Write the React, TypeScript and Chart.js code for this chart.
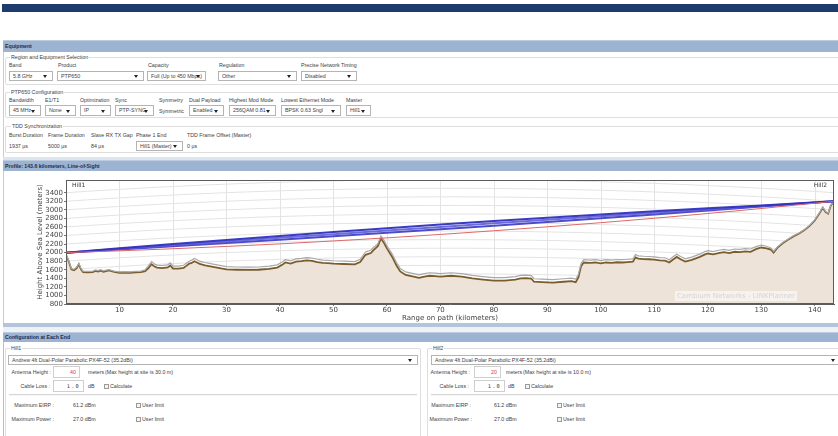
import React, { useEffect, useRef } from "react";
import { Chart, registerables } from "chart.js";
Chart.register(...registerables);

// ---------------- data ----------------
const pathKm = [
  0, 0.5, 1.0, 1.5, 2.0, 2.4, 2.8, 3.2, 4.0, 5.0, 5.5, 6.0, 6.5, 7.0, 7.5, 8.0, 8.5, 9.0, 10.0, 11.0,
  12.0, 13.0, 14.0, 14.8, 15.4, 16.0, 16.5, 17.0, 18.0, 19.0, 19.5, 20.0, 21.0, 22.0, 22.5, 23.0, 23.5, 24.0, 24.5, 25.0,
  26.0, 27.0, 28.0, 29.0, 30.0, 32.0, 34.0, 36.0, 38.0, 39.5, 40.5, 41.0, 42.0, 43.0, 44.0, 45.0, 46.0, 47.0, 48.0, 49.0,
  50.0, 52.0, 54.0, 55.0, 56.0, 57.0, 57.5, 58.3, 58.9, 59.5, 60.0, 61.0, 61.8, 62.5, 63.5, 65.0, 66.0, 67.0, 68.0, 69.0,
  70.0, 72.0, 74.0, 76.0, 78.0, 80.0, 82.0, 84.0, 85.0, 86.0, 87.0, 87.5, 89.0, 91.0, 93.0, 94.5, 95.3, 95.8, 96.3, 96.8,
  98.0, 99.0, 100.0, 101.0, 102.0, 103.0, 104.0, 105.0, 106.0, 106.5, 107.0, 108.0, 109.0, 110.0, 111.0, 112.0, 112.8, 113.5, 114.2, 115.0,
  115.8, 117.0, 118.5, 119.5, 120.0, 121.0, 122.0, 123.0, 124.0, 125.0, 126.0, 127.0, 128.0, 129.0, 130.0, 131.0, 131.8, 132.3, 133.0, 134.0,
  135.0, 136.0, 137.0, 138.0, 139.0, 140.0, 140.8, 141.5, 142.0, 142.5, 143.0, 143.6,
];
const terrainM = [
  1950, 1800, 1610, 1590, 1640, 1730, 1610, 1545, 1540, 1545, 1575, 1560, 1580, 1555, 1570, 1585, 1565, 1550, 1530, 1535,
  1530, 1540, 1545, 1565, 1640, 1730, 1680, 1650, 1640, 1655, 1700, 1625, 1625, 1645, 1690, 1740, 1760, 1800, 1770, 1735,
  1705, 1680, 1655, 1630, 1610, 1600, 1595, 1600, 1620, 1650, 1720, 1770, 1745, 1790, 1800, 1820, 1810, 1780, 1760, 1755,
  1745, 1735, 1725, 1780, 1950, 1990, 2060, 2150, 2330, 2220, 2100, 1900, 1700, 1560, 1480, 1440, 1410, 1440, 1460, 1450,
  1440, 1460, 1440, 1400, 1370, 1345, 1345, 1370, 1400, 1405, 1395, 1320, 1310, 1300, 1320, 1335, 1310, 1420, 1680, 1770,
  1760, 1770, 1750, 1770, 1760, 1775, 1770, 1780, 1790, 1890, 1860, 1850, 1845, 1835, 1820, 1815, 1770, 1840, 1900, 1840,
  1790, 1830, 1900, 1960, 1980, 1960, 1990, 2010, 1990, 2020, 2010, 2030, 2020, 2080, 2120, 2100, 2070, 2000, 2110, 2220,
  2300, 2380, 2440, 2520, 2620, 2750, 2900, 3050, 2950, 2910, 3100, 3200,
];
const clutterM = [
  1960, 1815, 1630, 1610, 1660, 1750, 1630, 1565, 1560, 1565, 1595, 1580, 1600, 1575, 1590, 1605, 1585, 1570, 1550, 1555,
  1550, 1560, 1570, 1600, 1690, 1790, 1740, 1710, 1700, 1715, 1760, 1685, 1685, 1705, 1750, 1800, 1825, 1865, 1835, 1800,
  1770, 1745, 1720, 1695, 1675, 1665, 1660, 1665, 1685, 1715, 1785, 1835, 1810, 1855, 1865, 1885, 1875, 1845, 1825, 1820,
  1810, 1800, 1790, 1845, 2015, 2055, 2120, 2210, 2390, 2280, 2160, 1965, 1770, 1630, 1550, 1510, 1480, 1510, 1530, 1520,
  1510, 1530, 1510, 1470, 1440, 1415, 1415, 1440, 1470, 1475, 1465, 1390, 1380, 1370, 1390, 1405, 1380, 1490, 1745, 1835,
  1825, 1835, 1815, 1835, 1825, 1840, 1835, 1845, 1855, 1955, 1925, 1915, 1910, 1900, 1885, 1880, 1835, 1905, 1965, 1905,
  1855, 1895, 1965, 2025, 2045, 2025, 2055, 2075, 2055, 2085, 2075, 2095, 2085, 2140, 2175, 2150, 2110, 2030, 2130, 2235,
  2315, 2395, 2455, 2535, 2635, 2765, 2915, 3065, 2965, 2925, 3110, 3205,
];
const rayKm = [0, 10, 20, 30, 40, 50, 60, 70, 80, 90, 100, 110, 120, 130, 143.6];
const blueUpperM = [2000, 2102, 2201, 2297, 2390, 2482, 2569, 2655, 2738, 2817, 2893, 2965, 3035, 3103, 3200];
const blueMiddleM = [2000, 2088, 2175, 2261, 2346, 2432, 2516, 2600, 2684, 2766, 2848, 2929, 3010, 3090, 3200];
const blueLowerM = [2000, 2074, 2148, 2224, 2302, 2382, 2462, 2545, 2630, 2715, 2803, 2893, 2985, 3076, 3200];
const redRayM = [2000, 2042, 2091, 2145, 2205, 2273, 2345, 2425, 2511, 2603, 2700, 2803, 2914, 3031, 3200];
const xTicksKm = [10, 20, 30, 40, 50, 60, 70, 80, 90, 100, 110, 120, 130, 140];
const yTicksM = [800, 1000, 1200, 1400, 1600, 1800, 2000, 2200, 2400, 2600, 2800, 3000, 3200, 3400];
const pathLengthKm = 143.6;
const bulgeDivisor = 16.99; // 2·k·R (k = 4/3) in km²/m

// ---------------- UI helpers ----------------
const FONT = '"Liberation Sans", Arial, sans-serif';
const FS = 5.3;

function Txt(p: { x: number; y: number; t: string; right?: boolean; bold?: boolean; color?: string; size?: number }) {
  const st: any = {
    position: "absolute",
    top: p.y - 4,
    height: 8,
    lineHeight: "8px",
    fontSize: p.size || FS,
    whiteSpace: "nowrap",
    color: p.color || "#3e3e3e",
    fontWeight: p.bold ? "bold" : "normal",
  };
  if (p.right) st.right = 838 - p.x;
  else st.left = p.x;
  return <div style={st}>{p.t}</div>;
}

function Combo(p: { x: number; y: number; w: number; h?: number; t: string }) {
  const h = p.h || 10;
  return (
    <div
      style={{
        position: "absolute",
        left: p.x,
        top: p.y,
        width: p.w,
        height: h,
        boxSizing: "border-box",
        border: "1px solid #b4b4b4",
        background: "#fff",
      }}
    >
      <div style={{ position: "absolute", left: 3, top: 0, lineHeight: h - 2 + "px", fontSize: FS, color: "#3e3e3e", whiteSpace: "nowrap" }}>{p.t}</div>
      <div
        style={{
          position: "absolute",
          right: 5,
          top: (h - 2) / 2 - 1,
          width: 0,
          height: 0,
          borderLeft: "2px solid transparent",
          borderRight: "2px solid transparent",
          borderTop: "3px solid #222",
        }}
      />
    </div>
  );
}

function Group(p: { x: number; y: number; w: number; h: number; t: string; tx?: number }) {
  return (
    <>
      <div
        style={{
          position: "absolute",
          left: p.x,
          top: p.y,
          width: p.w,
          height: p.h,
          boxSizing: "border-box",
          border: "1px solid #dedede",
          borderRadius: 2,
        }}
      />
      <div
        style={{
          position: "absolute",
          left: p.tx ?? p.x + 5,
          top: p.y - 4,
          lineHeight: "8px",
          fontSize: FS,
          background: "#fff",
          padding: "0 1px",
          color: "#3e3e3e",
          whiteSpace: "nowrap",
        }}
      >
        {p.t}
      </div>
    </>
  );
}

function Check(p: { x: number; y: number }) {
  return (
    <div
      style={{
        position: "absolute",
        left: p.x,
        top: p.y,
        width: 5,
        height: 5,
        boxSizing: "border-box",
        border: "1px solid #9a9a9a",
        background: "#f4f4f4",
      }}
    />
  );
}

function Input(p: { x: number; y: number; w: number; h: number; t: string; color?: string; spaced?: boolean }) {
  return (
    <div
      style={{
        position: "absolute",
        left: p.x,
        top: p.y,
        width: p.w,
        height: p.h,
        boxSizing: "border-box",
        border: "1px solid #cfcfcf",
        background: "#fff",
      }}
    >
      <div
        style={{
          position: "absolute",
          right: 3,
          top: 0,
          lineHeight: p.h - 2 + "px",
          fontSize: FS,
          color: p.color || "#3e3e3e",
          letterSpacing: p.spaced ? "1.2px" : "0",
          fontFamily: p.spaced ? '"DejaVu Sans Mono", monospace' : FONT,
        }}
      >
        {p.t}
      </div>
    </div>
  );
}

function Header(p: { y: number; h: number; t: string }) {
  return (
    <div
      style={{
        position: "absolute",
        left: 3,
        top: p.y,
        width: 835,
        height: p.h,
        background: "#9cb3d2",
        borderTop: "1px solid #bccbe0",
        boxSizing: "border-box",
      }}
    >
      <div style={{ position: "absolute", left: 2, top: 0, lineHeight: p.h - 1 + "px", fontSize: 5.2, fontWeight: "bold", color: "#1e2d4c", whiteSpace: "nowrap" }}>{p.t}</div>
    </div>
  );
}

// ---------------- chart ----------------
function ProfileChart() {
  const ref = useRef<HTMLCanvasElement | null>(null);
  useEffect(() => {
    if (!ref.current) return;
    const curvedGrid = {
      id: "curvedGrid",
      beforeDatasetsDraw(chart: any) {
        const { ctx, chartArea: a, scales } = chart;
        const xs = scales.x;
        const ys = scales.y;
        ctx.save();
        ctx.beginPath();
        ctx.rect(a.left, a.top, a.right - a.left, a.bottom - a.top);
        ctx.clip();
        ctx.strokeStyle = "#e3e3e3";
        ctx.lineWidth = 1;
        for (const v of yTicksM) {
          if (v === yTicksM[0]) continue;
          ctx.beginPath();
          const n = 72;
          for (let k = 0; k <= n; k++) {
            const d = (pathLengthKm * k) / n;
            const px = xs.getPixelForValue(d);
            const py = ys.getPixelForValue(v + (d * (pathLengthKm - d)) / bulgeDivisor);
            if (k === 0) ctx.moveTo(px, py);
            else ctx.lineTo(px, py);
          }
          ctx.stroke();
        }
        for (const t of xTicksKm) {
          const px = Math.round(xs.getPixelForValue(t)) + 0.5;
          ctx.beginPath();
          ctx.moveTo(px, a.top);
          ctx.lineTo(px, a.bottom);
          ctx.stroke();
        }
        ctx.restore();
      },
      afterDatasetsDraw(chart: any) {
        const { ctx, chartArea: a } = chart;
        ctx.save();
        // watermark
        ctx.font = '7px "DejaVu Sans"';
        const wm = "Cambium Networks - LINKPlanner";
        const w = ctx.measureText(wm).width;
        const rx = a.right - 39;
        ctx.fillStyle = "rgba(255,255,255,0.55)";
        ctx.fillRect(rx - w - 2, a.bottom - 13, w + 4, 10);
        ctx.fillStyle = "#d4d4d4";
        ctx.textAlign = "right";
        ctx.textBaseline = "middle";
        ctx.fillText(wm, rx, a.bottom - 8);
        // site labels
        ctx.font = '6px "DejaVu Sans"';
        ctx.fillStyle = "#333";
        ctx.textAlign = "left";
        ctx.fillText("Hill1", a.left + 6, a.top + 5);
        ctx.textAlign = "right";
        ctx.fillText("Hill2", a.right - 7, a.top + 5);
        // frame
        ctx.strokeStyle = "#5c5c5c";
        ctx.lineWidth = 1;
        ctx.strokeRect(Math.round(a.left) + 0.5, Math.round(a.top) + 0.5, Math.round(a.right - a.left) - 1, Math.round(a.bottom - a.top) - 1);
        ctx.restore();
      },
    };

    const pts = (xs: number[], ys: number[]) => xs.map((x, i) => ({ x, y: ys[i] }));
    const tickFont = { family: "DejaVu Sans", size: 7 };
    const chart = new Chart(ref.current, {
      type: "line",
      data: {
        datasets: [
          { data: pts(rayKm, redRayM), borderColor: "#e06868", borderWidth: 1, order: 1 },
          { data: pts(rayKm, blueUpperM), borderColor: "rgba(48,48,190,0.95)", borderWidth: 2, order: 2 },
          { data: pts(rayKm, blueMiddleM), borderColor: "rgba(92,92,215,0.9)", borderWidth: 2, order: 3 },
          { data: pts(rayKm, blueLowerM), borderColor: "rgba(66,66,200,0.95)", borderWidth: 2, order: 4 },
          { data: pts(pathKm, clutterM), borderColor: "#a9a9a9", borderWidth: 1.2, order: 5 },
          {
            data: pts(pathKm, terrainM),
            borderColor: "#7b5c2d",
            borderWidth: 1.8,
            fill: "start",
            backgroundColor: "#ede3d8",
            order: 6,
          },
        ] as any,
      },
      options: {
        animation: false,
        responsive: false,
        maintainAspectRatio: false,
        layout: { padding: { left: 0, right: 4, top: 8, bottom: 0 } },
        plugins: { legend: { display: false }, tooltip: { enabled: false } },
        elements: { point: { radius: 0 }, line: { tension: 0 } },
        scales: {
          x: {
            type: "linear",
            min: 0,
            max: pathLengthKm,
            afterBuildTicks: (s: any) => {
              s.ticks = xTicksKm.map((v) => ({ value: v }));
            },
            afterFit: (s: any) => {
              s.height = 18;
            },
            grid: { drawOnChartArea: false, drawTicks: true, tickLength: 2, color: "#777" },
            border: { display: true, color: "#5c5c5c" },
            ticks: { font: tickFont, color: "#444", padding: 0, maxRotation: 0, autoSkip: false, callback: (v: any) => String(v) },
            title: { display: true, text: "Range on path (kilometers)", font: tickFont, color: "#444", padding: 0 },
          },
          y: {
            type: "linear",
            min: 800,
            max: 3697,
            afterBuildTicks: (s: any) => {
              s.ticks = yTicksM.map((v) => ({ value: v }));
            },
            afterFit: (s: any) => {
              s.width = 63;
            },
            grid: { drawOnChartArea: false, drawTicks: true, tickLength: 2, color: "#777" },
            border: { display: true, color: "#5c5c5c" },
            ticks: { font: tickFont, color: "#444", padding: 1, autoSkip: false, callback: (v: any) => String(v) },
            title: {
              display: true,
              text: "Height Above Sea Level (meters)",
              font: tickFont,
              color: "#444",
              padding: { top: 33, bottom: 0 },
            },
          },
        },
      } as any,
      plugins: [curvedGrid],
    });
    return () => chart.destroy();
  }, []);
  return <canvas ref={ref} width={835} height={150} style={{ position: "absolute", left: 3, top: 172, width: 835, height: 150 }} />;
}

// ---------------- app ----------------
export default function App() {
  return (
    <div
      style={{
        position: "absolute",
        left: 0,
        top: 0,
        width: 838,
        height: 436,
        overflow: "hidden",
        background: "#fff",
        fontFamily: FONT,
      }}
    >
      {/* top bar */}
      <div style={{ position: "absolute", left: 2, top: 4, width: 836, height: 8, background: "#1d3b6c" }} />

      {/* Equipment panel */}
      <Header y={40} h={12} t="Equipment" />
      <div style={{ position: "absolute", left: 3, top: 52, width: 835, height: 105, borderLeft: "1px solid #c2cedd", boxSizing: "border-box" }} />
      <div style={{ position: "absolute", left: 3, top: 157, width: 835, height: 3, background: "#dde5ef" }} />

      <Group x={5} y={57} w={840} h={28} t="Region and Equipment Selection" />
      <Txt x={9} y={65} t="Band" />
      <Txt x={58} y={65} t="Product" />
      <Txt x={148} y={65} t="Capacity" />
      <Txt x={219} y={65} t="Regulation" />
      <Txt x={301} y={65} t="Precise Network Timing" />
      <Combo x={9} y={71} w={44} t="5.8 GHz" />
      <Combo x={57} y={71} w={87} t="PTP650" />
      <Combo x={147} y={71} w={59} t="Full (Up to 450 Mbps)" />
      <Combo x={218} y={71} w={79} t="Other" />
      <Combo x={301} y={71} w={56} t="Disabled" />

      <Group x={5} y={92} w={840} h={26} t="PTP650 Configuration" />
      <Txt x={9} y={100} t="Bandwidth" />
      <Txt x={45} y={100} t="E1/T1" />
      <Txt x={80} y={100} t="Optimization" />
      <Txt x={115} y={100} t="Sync" />
      <Txt x={159} y={100} t="Symmetry" />
      <Txt x={189} y={100} t="Dual Payload" />
      <Txt x={229} y={100} t="Highest Mod Mode" />
      <Txt x={281} y={100} t="Lowest Ethernet Mode" />
      <Txt x={346} y={100} t="Master" />
      <Combo x={9} y={105} w={32} h={11} t="45 MHz" />
      <Combo x={45} y={105} w={31} h={11} t="None" />
      <Combo x={80} y={105} w={31} h={11} t="IP" />
      <Combo x={115} y={105} w={39} h={11} t="PTP-SYNC" />
      <Txt x={159} y={110.5} t="Symmetric" />
      <Combo x={189} y={105} w={35} h={11} t="Enabled" />
      <Combo x={229} y={105} w={47} h={11} t="256QAM 0.81" />
      <Combo x={281} y={105} w={60} h={11} t="BPSK 0.63 Sngl" />
      <Combo x={346} y={105} w={25} h={11} t="Hill1" />

      <Group x={5} y={126} w={840} h={27} t="TDD Synchronization" tx={11} />
      <Txt x={9} y={135} t="Burst Duration" />
      <Txt x={48} y={135} t="Frame Duration" />
      <Txt x={91} y={135} t="Slave RX TX Gap" />
      <Txt x={136} y={135} t="Phase 1 End" />
      <Txt x={187} y={135} t="TDD Frame Offset (Master)" />
      <Txt x={9} y={146} t="1937 µs" />
      <Txt x={48} y={146} t="5000 µs" />
      <Txt x={91} y={146} t="84 µs" />
      <Combo x={136} y={141} w={47} t="Hill1 (Master)" />
      <Txt x={187} y={146} t="0 µs" />

      {/* Profile panel */}
      <Header y={160} h={11} t="Profile: 143.6 kilometers, Line-of-Sight" />
      <div style={{ position: "absolute", left: 3, top: 171, width: 835, height: 152, borderLeft: "1px solid #c2cedd", boxSizing: "border-box" }} />
      <ProfileChart />
      <div style={{ position: "absolute", left: 3, top: 323, width: 835, height: 4, background: "#b3c5dd" }} />
      <div style={{ position: "absolute", left: 3, top: 327, width: 835, height: 5, background: "#eef2f7" }} />

      {/* Configuration panel */}
      <Header y={332} h={10} t="Configuration at Each End" />
      <div style={{ position: "absolute", left: 3, top: 342, width: 835, height: 100, borderLeft: "1px solid #b0bfd3", boxSizing: "border-box" }} />

      {/* Hill1 */}
      <Group x={5} y={348} w={416} h={100} t="Hill1" />
      <Combo x={8} y={355} w={410} t="Andrew 4ft Dual-Polar Parabolic PX4F-52 (35.2dBi)" />
      <Txt x={51} y={372} t="Antenna Height :" right />
      <Input x={53} y={366} w={27} h={12} t="40" color="#d23a3a" />
      <Txt x={88} y={372} t="meters" />
      <Txt x={105} y={372} t="(Max height at site is 30.0 m)" />
      <Txt x={50} y={386} t="Cable Loss :" right />
      <Input x={53} y={380} w={31} h={12} t="1.0" spaced />
      <Txt x={88} y={386} t="dB" />
      <Check x={104} y={384} />
      <Txt x={110} y={386} t="Calculate" />
      <div style={{ position: "absolute", left: 9, top: 394, width: 408, height: 1, background: "#d6d6d6" }} />
      <div style={{ position: "absolute", left: 9, top: 395, width: 408, height: 1, background: "#f6f6f6" }} />
      <Txt x={54} y={405} t="Maximum EIRP :" right />
      <Txt x={73} y={405} t="61.2 dBm" />
      <Check x={136} y={403} />
      <Txt x={142} y={405} t="User limit" />
      <Txt x={54} y={419} t="Maximum Power :" right />
      <Txt x={73} y={419} t="27.0 dBm" />
      <Check x={136} y={417} />
      <Txt x={142} y={419} t="User limit" />

      {/* Hill2 */}
      <Group x={427} y={348} w={420} h={100} t="Hill2" />
      <Combo x={431} y={355} w={410} t="Andrew 4ft Dual-Polar Parabolic PX4F-52 (35.2dBi)" />
      <Txt x={470} y={372} t="Antenna Height :" right />
      <Input x={474} y={366} w={27} h={12} t="20" color="#d23a3a" />
      <Txt x={506} y={372} t="meters" />
      <Txt x={523} y={372} t="(Max height at site is 10.0 m)" />
      <Txt x={469} y={386} t="Cable Loss :" right />
      <Input x={474} y={380} w={31} h={12} t="1.0" spaced />
      <Txt x={508} y={386} t="dB" />
      <Check x={525} y={384} />
      <Txt x={531} y={386} t="Calculate" />
      <div style={{ position: "absolute", left: 431, top: 394, width: 410, height: 1, background: "#d6d6d6" }} />
      <div style={{ position: "absolute", left: 431, top: 395, width: 410, height: 1, background: "#f6f6f6" }} />
      <Txt x={471} y={405} t="Maximum EIRP :" right />
      <Txt x={494} y={405} t="61.2 dBm" />
      <Check x={557} y={403} />
      <Txt x={563} y={405} t="User limit" />
      <Txt x={472} y={419} t="Maximum Power :" right />
      <Txt x={494} y={419} t="27.0 dBm" />
      <Check x={557} y={417} />
      <Txt x={563} y={419} t="User limit" />
    </div>
  );
}
